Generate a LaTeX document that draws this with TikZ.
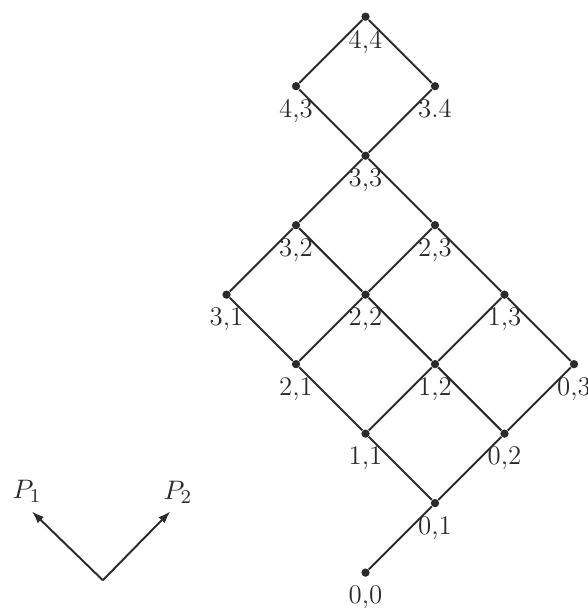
\documentclass[tikz,border=0pt]{standalone}
\usepackage{tikz}
\usetikzlibrary{arrows.meta, positioning}
\definecolor{InkGray}{HTML}{2B2B2B}

\begin{document}
\begin{tikzpicture}[
  dot/.style={circle, fill=InkGray, inner sep=0pt, minimum size=3.4pt,
    label distance=3.5pt},
  edge/.style={InkGray, line width=0.8pt},
  axis/.style={-{Latex[length=5pt,width=3.6pt]}, InkGray, line width=0.8pt},
  every label/.style={font=\fontsize{11}{13}\selectfont, text=InkGray},
  node distance=1cm and 1cm, on grid
]
\useasboundingbox (0,0) rectangle (8.46,8.85);

\node[dot, label={below:{0,0}}] (p00) at (5.26,0.61) {};
\node[dot, above right=of p00, label={below:{0,1}}] (p01) {};
\node[dot, above left=of p01, label={below:{1,1}}] (p11) {};
\node[dot, above right=of p01, label={below:{0,2}}] (p02) {};
\node[dot, above left=of p11, label={below:{2,1}}] (p21) {};
\node[dot, above right=of p11, label={below:{1,2}}] (p12) {};
\node[dot, above right=of p02, label={below:{0,3}}] (p03) {};
\node[dot, above left=of p21, label={below:{3,1}}] (p31) {};
\node[dot, above right=of p21, label={below:{2,2}}] (p22) {};
\node[dot, above right=of p12, label={below:{1,3}}] (p13) {};
\node[dot, above right=of p31, label={below:{3,2}}] (p32) {};
\node[dot, above right=of p22, label={below:{2,3}}] (p23) {};
\node[dot, above right=of p32, label={below:{3,3}}] (p33) {};
\node[dot, above left=of p33, label={below:{4,3}}] (p43) {};
\node[dot, above right=of p33, label={below:{3.4}}] (p34) {};
\node[dot, above right=of p43, label={below:{4,4}}] (p44) {};

\draw[edge] (p00)--(p01);
\draw[edge] (p01)--(p11);
\draw[edge] (p01)--(p02);
\draw[edge] (p11)--(p21);
\draw[edge] (p11)--(p12);
\draw[edge] (p02)--(p12);
\draw[edge] (p02)--(p03);
\draw[edge] (p21)--(p31);
\draw[edge] (p21)--(p22);
\draw[edge] (p12)--(p22);
\draw[edge] (p12)--(p13);
\draw[edge] (p03)--(p13);
\draw[edge] (p31)--(p32);
\draw[edge] (p22)--(p32);
\draw[edge] (p22)--(p23);
\draw[edge] (p13)--(p23);
\draw[edge] (p32)--(p33);
\draw[edge] (p23)--(p33);
\draw[edge] (p33)--(p43);
\draw[edge] (p33)--(p34);
\draw[edge] (p43)--(p44);
\draw[edge] (p34)--(p44);

% direction key
\coordinate (v) at (1.48,0.50);
\coordinate (e1) at (0.46,1.49);
\coordinate (e2) at (2.45,1.49);
\draw[axis] (v)--(e1);
\draw[axis] (v)--(e2);
\node[text=InkGray, font=\fontsize{11}{13}\selectfont] (lp1) at (0.39,1.78) {$P_1$};
\node[text=InkGray, font=\fontsize{11}{13}\selectfont] (lp2) at (2.56,1.77) {$P_2$};

\end{tikzpicture}
\end{document}
